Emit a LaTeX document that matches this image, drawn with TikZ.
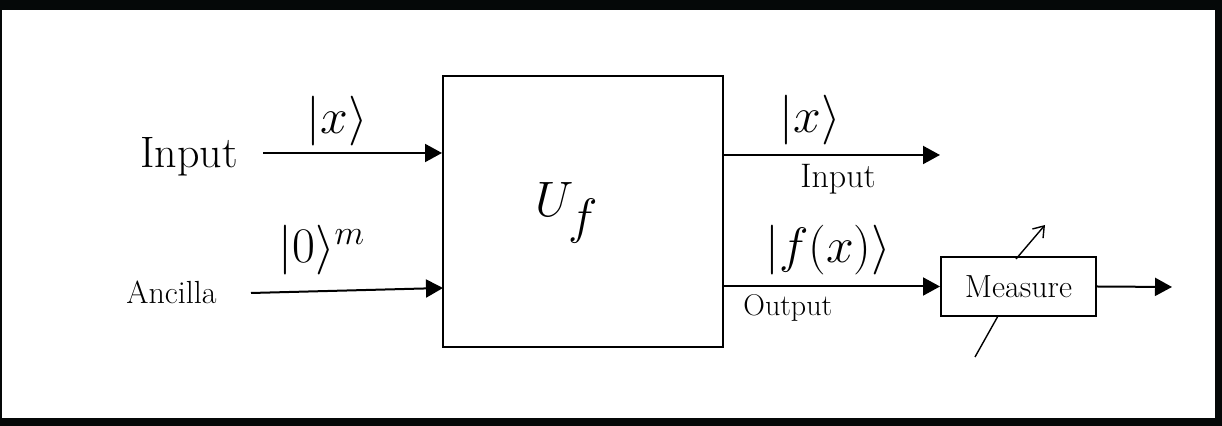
\documentclass[tikz,border=0pt]{standalone}
\usetikzlibrary{arrows.meta}
\definecolor{framecol}{RGB}{5,8,8}
\begin{document}
\begin{tikzpicture}[x=0.5pt,y=-0.5pt,
  conn/.style={line width=1pt,-{Triangle[length=8.5pt,width=9pt]}},
  thin/.style={line width=0.7pt},
  boxnode/.style={draw,line width=1pt,inner sep=0pt},
  lbl/.style={inner sep=0pt}]
\useasboundingbox (0,0) rectangle (1222,426);
\fill[framecol] (0,0) rectangle (1222,426);
\fill[white] (2,10) rectangle (1215,418);
% main gate
\node[boxnode,minimum width=140pt,minimum height=135.5pt] (U) at (583,211.5) {};
\node[lbl,font=\fontsize{40}{44}\selectfont] (Uf) at (567,213) {$U_f$};
% measure box
\node[boxnode,minimum width=77.5pt,minimum height=29.5pt,font=\fontsize{16}{18}\selectfont] (M) at (1018.5,286.5) {Measure};
% left labels
\node[lbl,anchor=base west,font=\fontsize{22}{24}\selectfont] (in) at (140,168) {Input};
\node[lbl,font=\fontsize{24}{26}\selectfont] (kx) at (337,121) {$|x\rangle$};
\node[lbl,anchor=base west,font=\fontsize{16}{18}\selectfont] (anc) at (126,304) {Ancilla};
\node[lbl,font=\fontsize{24}{26}\selectfont] (k0) at (322,250) {$|0\rangle^{m}$};
% right labels
\node[lbl,font=\fontsize{24}{26}\selectfont] (kxo) at (810,120) {$|x\rangle$};
\node[lbl,anchor=base west,font=\fontsize{17}{19}\selectfont] (ino) at (800,188) {Input};
\node[lbl,font=\fontsize{24}{26}\selectfont] (kf) at (828,250) {$|f(x)\rangle$};
\node[lbl,anchor=base west,font=\fontsize{15}{17}\selectfont] (out) at (743,316) {Output};
% connectors
\coordinate (a1) at (263,153);
\coordinate (a2) at (251,293);
\coordinate (a2e) at (443,288);
\coordinate (o1) at (940,155);
\coordinate (o3) at (1172,287);
\draw[conn] (a1) -- (U.west |- a1);
\draw[conn] (a2) -- (a2e);
\draw[conn] (U.east |- o1) -- (o1);
\draw[conn] (U.east |- M.west) -- (M.west);
\draw[conn] (M.east) -- (o3);
% measurement marks
\coordinate (m1) at (1016,259);
\coordinate (m2) at (1045,225);
\coordinate (m3) at (998,316);
\coordinate (m4) at (975,357);
\draw[thin,-{Straight Barb[length=5pt,width=7pt]}] (m1) -- (m2);
\draw[thin] (m3) -- (m4);
\end{tikzpicture}
\end{document}
